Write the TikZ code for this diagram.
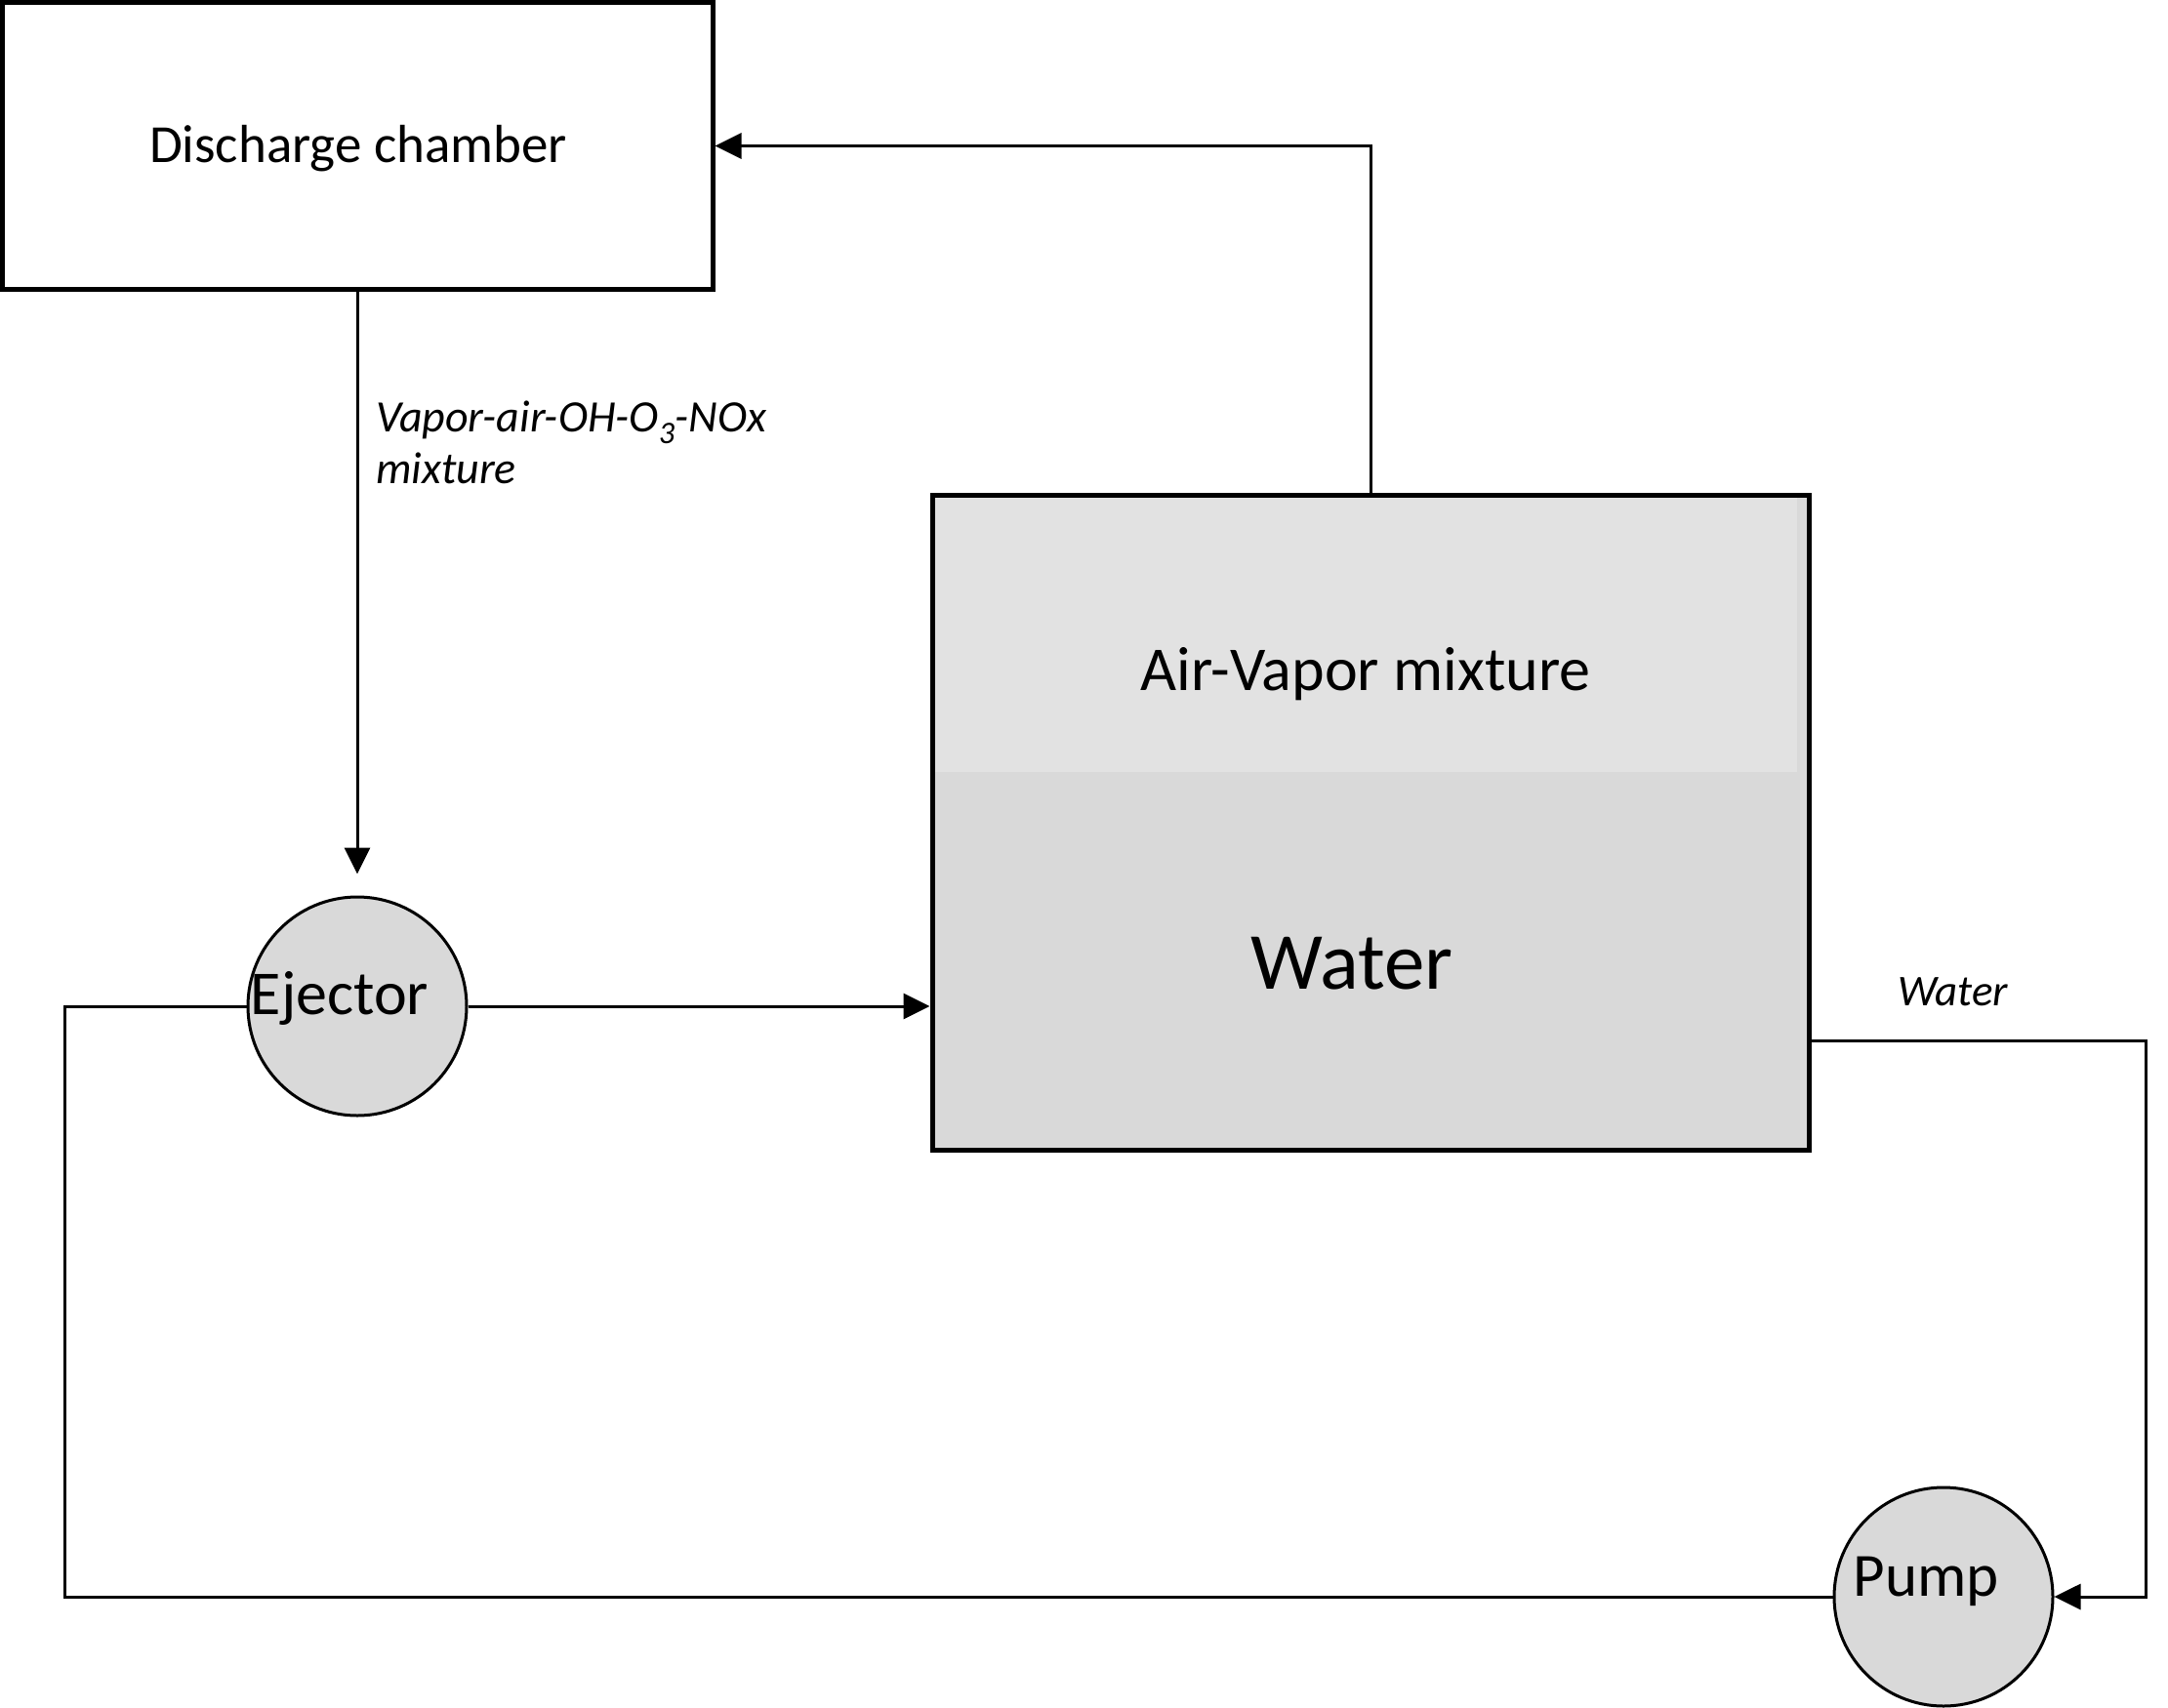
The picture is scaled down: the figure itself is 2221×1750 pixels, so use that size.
\documentclass[tikz,border=0pt]{standalone}
\usepackage{fontspec}
\setmainfont{Carlito}
\usetikzlibrary{arrows.meta}
\definecolor{waterc}{HTML}{D9D9D9}
\definecolor{airc}{HTML}{E2E2E2}
\begin{document}
\begin{tikzpicture}[x=1pt,y=-1pt,
  box/.style={draw,line width=5pt,inner sep=0pt},
  conn/.style={line width=3pt},
  arr/.style={conn,-{Triangle[length=27pt,width=26pt]}},
  disc/.style={circle,draw,line width=3pt,fill=waterc,minimum size=224pt,inner sep=0pt},
  lbl/.style={inner sep=0pt,anchor=base}]
\useasboundingbox (0,0) rectangle (2221,1750);
% boxes
\node[box,minimum width=728pt,minimum height=293pt] (dc) at (366,149.5) {};
\node[box,fill=waterc,minimum width=898pt,minimum height=671pt] (tank) at (1404,842.5) {};
\fill[airc] (958,510) rectangle (1841,791);
\node[disc] (ej) at (366,1031) {};
\node[disc] (pump) at (1991,1636) {};
% texts
\node[lbl,font=\fontsize{55}{60}\selectfont] (tdc) at (367,166) {Discharge chamber};
\node[lbl,font=\fontsize{64}{70}\selectfont] (tair) at (1399,707) {Air-Vapor mixture};
\node[lbl,font=\fontsize{83}{90}\selectfont] (twater) at (1385,1013) {Water};
\node[lbl,font=\fontsize{64}{70}\selectfont] (tej) at (348,1039) {Ejector};
\node[lbl,font=\fontsize{63}{70}\selectfont] (tpump) at (1973,1635) {Pump};
\node[lbl,anchor=base west,font=\fontsize{46}{53}\selectfont\itshape] (tvap1) at (385,442) {Vapor-air-OH-O\textsubscript{3}-NOx};
\node[lbl,anchor=base west,font=\fontsize{46}{53}\selectfont\itshape] (tvap2) at (385,495) {mixture};
\node[lbl,anchor=base west,font=\fontsize{45}{50}\selectfont\itshape] (twl) at (1944,1030) {Water};
% connectors
\draw[arr] (tank.north) -- (tank.north |- dc.east) -- (dc.east);
\draw[arr] (dc.south) -- ([yshift=22pt]ej.north);
\draw[arr] (ej.east) -- (tank.west |- ej.east);
\coordinate (lc1) at (66,1031);
\coordinate (lc2) at (66,1636);
\draw[conn] (ej.west) -- (lc1) -- (lc2) -- (pump.west);
\coordinate (oc1) at (2198,1066);
\draw[arr] (tank.east |- oc1) -- (oc1) -- (oc1 |- pump.east) -- (pump.east);
\end{tikzpicture}
\end{document}
